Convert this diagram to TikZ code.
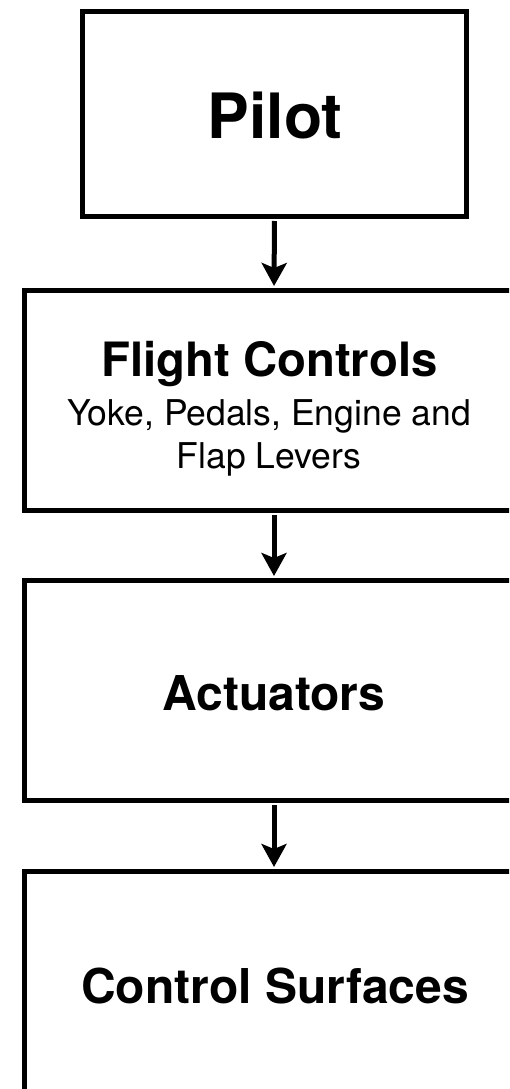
\documentclass[tikz,border=0pt]{standalone}
\usepackage{fontspec}
\setmainfont{TeX Gyre Heros}
\usetikzlibrary{arrows.meta}
\tikzset{
  blockbox/.style={draw=black, line width=4.7pt, fill=white, rectangle, outer sep=0pt, inner sep=0pt},
  flowarrow/.style={line width=5pt, -{Stealth[length=23pt,width=25pt,inset=5pt]}, shorten <=4.5pt, shorten >=4.5pt},
  headtxt/.style={font=\fontsize{48}{56}\selectfont\bfseries, anchor=base, inner sep=0pt},
  subtxt/.style={font=\fontsize{35.5}{43}\selectfont, anchor=base, inner sep=0pt}
}
\begin{document}
\begin{tikzpicture}[x=1pt,y=-1pt]
\useasboundingbox[fill=white] (0,0) rectangle (509,1089);
\clip (0,0) rectangle (509,1089);
\node[blockbox, minimum width=384pt, minimum height=205pt] (pilot) at (274.5,114) {};
\node[blockbox, minimum width=499pt, minimum height=220pt] (fc) at (274,400.5) {};
\node[blockbox, minimum width=499pt, minimum height=220pt] (act) at (274,690.5) {};
\node[blockbox, minimum width=499pt, minimum height=220pt] (cs) at (274,981.5) {};
\node[headtxt, font=\fontsize{62.5}{70}\selectfont\bfseries] (tpilot) at (275,138.3) {Pilot};
\node[headtxt, font=\fontsize{47.3}{56}\selectfont\bfseries] (tfc) at (269.5,376) {Flight Controls};
\node[subtxt] (tfc2) at (269,425) {Yoke, Pedals, Engine and};
\node[subtxt] (tfc3) at (269,468) {Flap Levers};
\node[headtxt] (tact) at (274,710) {Actuators};
\node[headtxt] (tcs) at (275,1003) {Control Surfaces};
\draw[flowarrow] (pilot.south) -- (fc.north);
\draw[flowarrow] (fc.south) -- (act.north);
\draw[flowarrow] (act.south) -- (cs.north);
\end{tikzpicture}
\end{document}
